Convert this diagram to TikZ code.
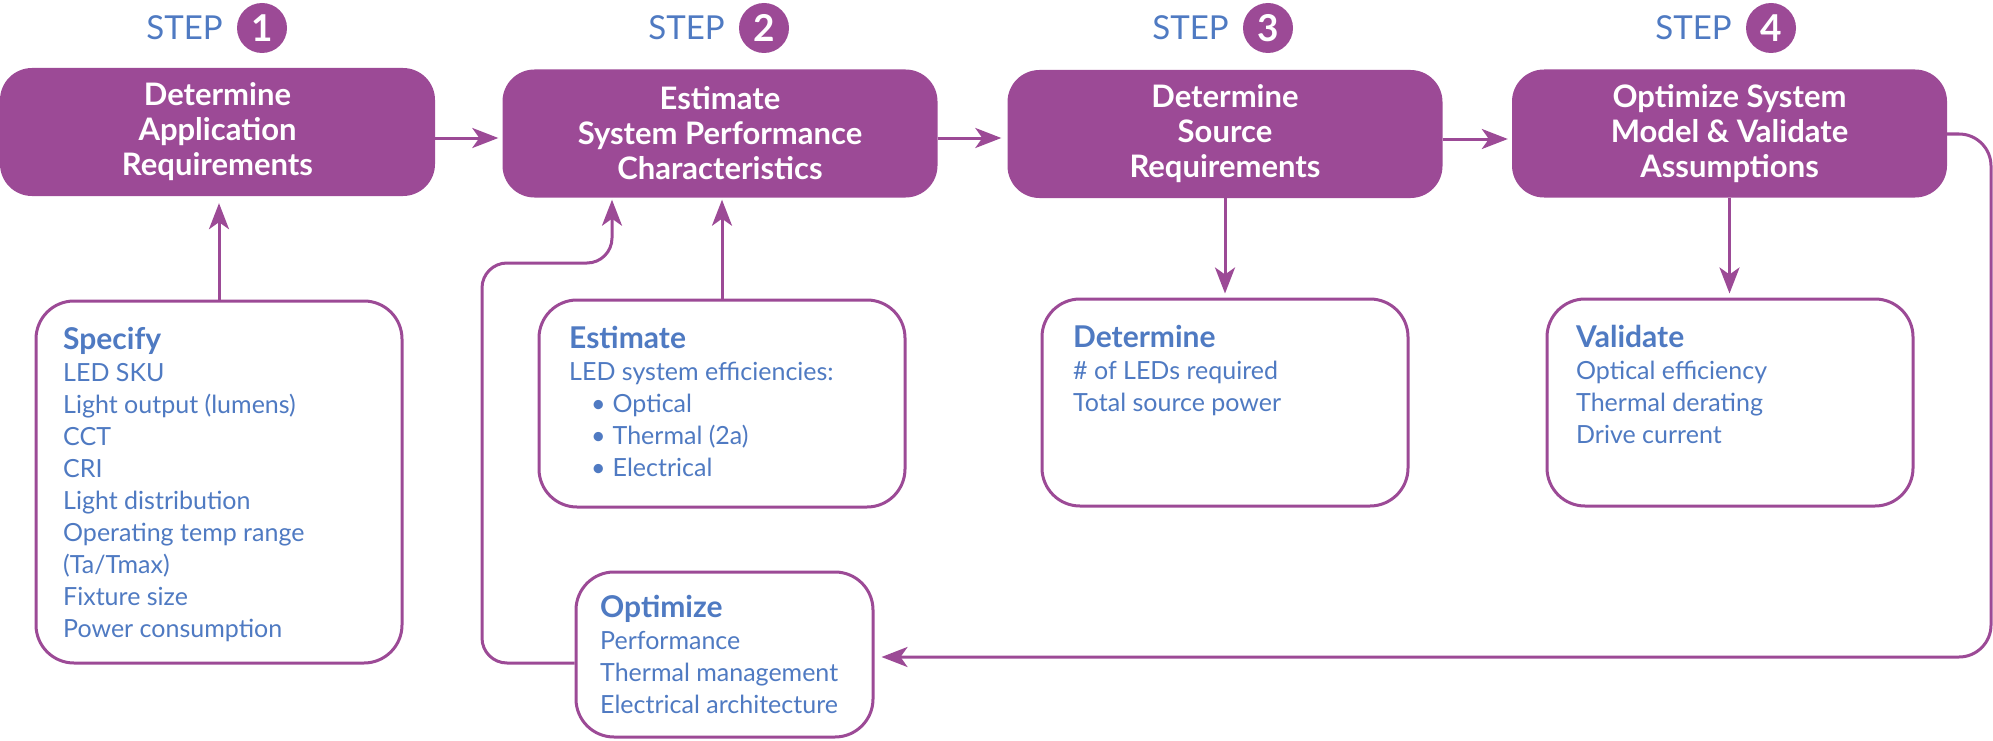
\documentclass[tikz,border=0pt]{standalone}
\usepackage{fontspec}
\setmainfont{Lato}
\usetikzlibrary{arrows.meta}
\definecolor{gepurple}{HTML}{9C4A96}
\definecolor{geblue}{HTML}{4F7AC2}
\begin{document}
\begin{tikzpicture}[x=1pt,y=-1pt,
  stepbox/.style={fill=gepurple, rounded corners=32pt, minimum width=435pt, minimum height=128pt, text=white, align=center, font=\bfseries\fontsize{31}{35}\selectfont, inner sep=0pt},
  infobox/.style={draw=gepurple, line width=3pt, rounded corners=38pt, fill=white, inner sep=0pt},
  infotext/.style={anchor=base west, align=left, inner sep=0pt, text=geblue, font=\fontsize{25}{32}\selectfont},
  numcirc/.style={circle, fill=gepurple, minimum size=50pt, inner sep=0pt, text=white, font=\bfseries\fontsize{37}{37}\selectfont},
  steplabel/.style={anchor=east, text=geblue, font=\fontsize{33}{33}\selectfont, inner sep=0pt},
  conn/.style={draw=gepurple, line width=3pt, -{Stealth[length=26pt,width=20pt,inset=7pt]}},
]
\useasboundingbox (0,0) rectangle (1993,741);

% step boxes
\node[stepbox] (b1) at (217.5,132) {Determine\\Application\\Requirements};
\node[stepbox] (b2) at (720,133.5) {Estimate\\System Performance\\Characteristics};
\node[stepbox] (b3) at (1225,134) {Determine\\Source\\Requirements};
\node[stepbox] (b4) at (1729.5,133.5) {Optimize System\\Model \& Validate\\Assumptions};

% step numbers
\node[numcirc] (c1) at (262,28) {1};
\node[numcirc] (c2) at (764,28) {2};
\node[numcirc] (c3) at (1268,28) {3};
\node[numcirc] (c4) at (1771,28) {4};
\node[steplabel] (l1) at ([xshift=-14pt]c1.west) {STEP};
\node[steplabel] (l2) at ([xshift=-14pt]c2.west) {STEP};
\node[steplabel] (l3) at ([xshift=-14pt]c3.west) {STEP};
\node[steplabel] (l4) at ([xshift=-14pt]c4.west) {STEP};

% info boxes
\node[infobox, minimum width=366pt, minimum height=362pt] (spec) at (219,482) {};
\node[infobox, minimum width=366pt, minimum height=207pt] (est) at (722,403.5) {};
\node[infobox, minimum width=366pt, minimum height=207pt] (det) at (1225,402.5) {};
\node[infobox, minimum width=366pt, minimum height=207pt] (val) at (1730,402.5) {};
\node[infobox, minimum width=297pt, minimum height=165pt] (opt) at (724.5,654.5) {};

% texts (base anchor = baseline of last line)
\node[infotext] (spect) at (63,637) {{\bfseries\fontsize{30}{33}\selectfont Specify}\\LED SKU\\Light output (lumens)\\CCT\\CRI\\Light distribution\\Operating temp range\\(Ta/Tmax)\\Fixture size\\Power consumption};
\node[infotext] (estt) at (569,476) {{\bfseries\fontsize{30}{33}\selectfont Estimate}\\LED system efficiencies:\\\hspace*{22pt}•\hspace{7pt}Optical\\\hspace*{22pt}•\hspace{7pt}Thermal (2a)\\\hspace*{22pt}•\hspace{7pt}Electrical};
\node[infotext] (dett) at (1073,411) {{\bfseries\fontsize{30}{33}\selectfont Determine}\\\# of LEDs required\\Total source power};
\node[infotext] (valt) at (1576,443) {{\bfseries\fontsize{30}{33}\selectfont Validate}\\Optical efficiency\\Thermal derating\\Drive current};
\node[infotext] (optt) at (600,713) {{\bfseries\fontsize{30}{33}\selectfont Optimize}\\Performance\\Thermal management\\Electrical architecture};

% main flow arrows
\draw[conn, shorten >=4pt] (b1.east |- 0,138) -- (b2.west |- 0,138);
\draw[conn, shorten >=6pt] (b2.east |- 0,138) -- (b3.west |- 0,138);
\draw[conn, shorten >=4pt] (b3.east |- 0,139) -- (b4.west |- 0,139);

% vertical arrows
\draw[conn, shorten >=7pt] (spec.north) -- (spec.north |- b1.south);
\draw[conn, shorten >=2pt] (est.north) -- (est.north |- b2.south);
\draw[conn, shorten >=4pt] (b3.south) -- (b3.south |- det.north);
\draw[conn, shorten >=4pt] (b4.south) -- (b4.south |- val.north);

% feedback loops
\draw[conn, rounded corners=32pt, shorten >=7pt] (b4.east |- 0,134) -- (1991,134) -- (1991,657) -- (opt.east |- 0,657);
\draw[conn, rounded corners=25pt, shorten >=2pt] (opt.west |- 0,663) -- (482,663) -- (482,263) -- (612,263) -- (612,0 |- b2.south);
\end{tikzpicture}
\end{document}
